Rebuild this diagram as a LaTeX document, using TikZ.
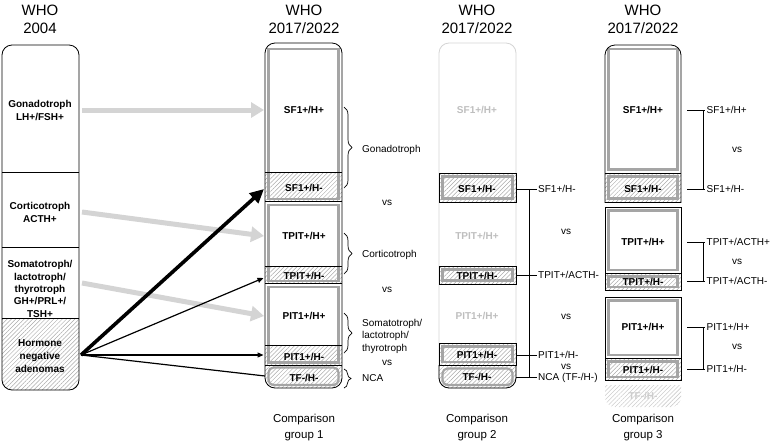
\documentclass[tikz,border=0pt]{standalone}
\usepackage{fontspec}
\setmainfont{Liberation Sans}
\usetikzlibrary{arrows.meta,patterns.meta,decorations.pathreplacing}
\definecolor{gbord}{RGB}{165,165,165}
\definecolor{garrow}{RGB}{212,212,212}
\definecolor{fadeline}{RGB}{212,212,212}
\definecolor{fadetext}{RGB}{190,190,190}
\definecolor{hatchc}{RGB}{170,170,170}
\definecolor{hatchl}{RGB}{205,205,205}
\begin{document}
\begin{tikzpicture}[x=1pt,y=-1pt,
  hatch/.style={pattern={Lines[angle=45,distance=3pt,line width=0.5pt]},pattern color=hatchc},
  hatchlight/.style={pattern={Lines[angle=45,distance=3pt,line width=0.6pt]},pattern color=hatchl},
  gbox/.style={draw=gbord,line width=2.2pt},
  bline/.style={draw=black,line width=0.8pt},
  lbl/.style={font=\bfseries\fontsize{10}{13}\selectfont,align=center,inner sep=0pt},
  txt/.style={font=\fontsize{10}{12.5}\selectfont,anchor=west,align=left,inner sep=0pt},
  vstxt/.style={font=\fontsize{10}{12}\selectfont,inner sep=0pt},
  ttl/.style={font=\fontsize{15}{18}\selectfont,align=center,inner sep=0pt},
  cmp/.style={font=\fontsize{11.5}{16}\selectfont,align=center,inner sep=0pt},
  garr/.style={draw=garrow,line width=5pt,-{Triangle[length=13pt,width=15pt]}},
  barrthick/.style={draw=black,line width=3.6pt,-{Triangle[length=14pt,width=13pt]}},
  barrthin/.style={draw=black,line width=1.2pt,-{Triangle[length=6pt,width=5pt]}},
  brc/.style={draw=black,line width=0.7pt,decorate,decoration={brace,amplitude=8pt}}
]
\useasboundingbox (0,0) rectangle (777,445);

% ---------- titles ----------
\node[ttl] (t0) at (40,19) {WHO\\2004};
\node[ttl] (t1) at (304,19) {WHO\\2017/2022};
\node[ttl] (t2) at (477,19) {WHO\\2017/2022};
\node[ttl] (t3) at (643,19) {WHO\\2017/2022};
\node[cmp] (c1) at (304,428) {Comparison\\group 1};
\node[cmp] (c2) at (477,428) {Comparison\\group 2};
\node[cmp] (c3) at (643,428) {Comparison\\group 3};

% ---------- WHO 2004 column ----------
\begin{scope}
  \clip[rounded corners=10pt] (2,45) rectangle (79,390);
  \fill[hatch] (2,318) rectangle (79,390);
\end{scope}
\draw[bline,rounded corners=10pt] (2,45) rectangle (79,390);
\draw[bline] (2,172) -- (79,172);
\draw[bline] (2,247) -- (79,247);
\draw[bline] (2,318) -- (79,318);
\node[lbl] (gon) at (40,110.5) {Gonadotroph\\LH+/FSH+};
\node[lbl] (cor) at (40,212.5) {Corticotroph\\ACTH+};
\node[lbl,font=\bfseries\fontsize{10}{12.3}\selectfont] (som) at (40,289) {Somatotroph/\\lactotroph/\\thyrotroph\\GH+/PRL+/\\TSH+};
\node[lbl] (hna) at (40,356) {Hormone\\negative\\adenomas};

% ---------- group 1 column ----------
\begin{scope}
  \clip[rounded corners=10pt] (265,43) rectangle (342,388);
  \fill[hatch] (265,172) rectangle (342,201.5);
  \fill[hatch] (265,266) rectangle (342,283.5);
  \fill[hatch] (265,345) rectangle (342,388);
\end{scope}
\draw[gbox] (268.5,49) rectangle (338.5,199);
\draw[gbox] (268.5,205) rectangle (338.5,281);
\draw[gbox] (268.5,287) rectangle (338.5,362.5);
\draw[gbox,rounded corners=5pt] (268.5,367.5) rectangle (338.5,385);
\draw[bline] (265,172) -- (342,172);
\draw[bline] (265,201.5) -- (342,201.5);
\draw[bline] (265,266) -- (342,266);
\draw[bline] (265,283.5) -- (342,283.5);
\draw[bline] (265,345) -- (342,345);
\draw[bline] (265,365) -- (342,365);
\draw[bline,rounded corners=10pt] (265,43) rectangle (342,388);
\node[lbl] (a1) at (304,110) {SF1+/H+};
\node[lbl] (a2) at (304,188) {SF1+/H-};
\node[lbl] (a3) at (304,236) {TPIT+/H+};
\node[lbl] (a4) at (304,276) {TPIT+/H-};
\node[lbl] (a5) at (304,316) {PIT1+/H+};
\node[lbl] (a6) at (304,357) {PIT1+/H-};
\node[lbl] (a7) at (304,377.5) {TF-/H-};

% braces group 1
\coordinate (b1t) at (344,107); \coordinate (b1b) at (344,188);
\coordinate (b2t) at (344,233); \coordinate (b2b) at (344,274);
\coordinate (b3t) at (344,313); \coordinate (b3b) at (344,353);
\coordinate (b4t) at (344,369); \coordinate (b4b) at (344,388);
\draw[brc] (b1t) -- (b1b);
\draw[brc] (b2t) -- (b2b);
\draw[brc] (b3t) -- (b3b);
\draw[brc,decoration={brace,amplitude=7pt}] (b4t) -- (b4b);
\node[txt] (l1) at (362,150) {Gonadotroph};
\node[vstxt] (v1) at (387,203) {vs};
\node[txt] (l2) at (362,255) {Corticotroph};
\node[vstxt] (v2) at (387,290) {vs};
\node[txt] (l3) at (362,336) {Somatotroph/\\lactotroph/\\thyrotroph};
\node[vstxt] (v3) at (387,363) {vs};
\node[txt] (l4) at (362,378) {NCA};

% ---------- arrows ----------
\coordinate (src) at (81,355);
\coordinate (g0) at (82,110);  \coordinate (g1) at (264,110);
\coordinate (k0) at (82,212);  \coordinate (k1) at (264,236);
\coordinate (s0) at (82,283);  \coordinate (s1) at (264,316);
\coordinate (e1) at (264,189);
\coordinate (e2) at (263.5,278);
\coordinate (e3) at (263.5,355);
\coordinate (e4) at (265,376);
\draw[garr] (g0) -- (g1);
\draw[garr] (k0) -- (k1);
\draw[garr] (s0) -- (s1);
\draw[barrthick] (src) -- (e1);
\draw[barrthin] (src) -- (e2);
\draw[barrthin] (src) -- (e3);
\draw[draw=black,line width=1.2pt] (src) -- (e4);

% ---------- group 2 column ----------
\draw[draw=fadeline,line width=0.8pt,rounded corners=10pt] (439,43) rectangle (516,388);
\node[lbl,text=fadetext] (f1) at (477,110) {SF1+/H+};
\node[lbl,text=fadetext] (f2) at (477,236) {TPIT+/H+};
\node[lbl,text=fadetext] (f3) at (477,316) {PIT1+/H+};
% SF1 H-
\fill[hatch] (439,173) rectangle (516,202);
\draw[gbox] (442.5,176.5) rectangle (512.5,198.5);
\draw[bline] (439,173) rectangle (516,202);
% TPIT H-
\fill[hatch] (439,266) rectangle (516,284);
\draw[gbox] (442.5,269.5) rectangle (512.5,280.5);
\draw[bline] (439,266) rectangle (516,284);
% PIT1 H- and TF
\begin{scope}
  \clip[rounded corners=10pt] (439,43) rectangle (516,388);
  \fill[hatch] (439,343) rectangle (516,388);
\end{scope}
\draw[gbox] (442.5,346.5) rectangle (512.5,362);
\draw[gbox,rounded corners=5pt] (442.5,368.5) rectangle (512.5,385);
\draw[bline] (439,343) rectangle (516,365);
\begin{scope}
  \clip (430,365) rectangle (525,395);
  \draw[bline,rounded corners=10pt] (439,43) rectangle (516,388);
\end{scope}
\node[lbl] (m1) at (477,189) {SF1+/H-};
\node[lbl] (m2) at (477,275.5) {TPIT+/H-};
\node[lbl] (m3) at (477,355) {PIT1+/H-};
\node[lbl] (m4) at (477,377) {TF-/H-};
% bracket group 2
\coordinate (q1) at (516,189); \coordinate (q1e) at (537,189);
\coordinate (q2) at (516,275); \coordinate (q2e) at (537,275);
\coordinate (q3) at (516,355); \coordinate (q3e) at (537,355);
\coordinate (q4) at (516,377); \coordinate (q4e) at (537,377);
\coordinate (qt) at (529,189); \coordinate (qb) at (529,377);
\draw[line width=0.8pt] (q1) -- (q1e);
\draw[line width=0.8pt] (q2) -- (q2e);
\draw[line width=0.8pt] (q3) -- (q3e);
\draw[line width=0.8pt] (q4) -- (q4e);
\draw[line width=0.8pt] (qt) -- (qb);
\node[txt] (r1) at (538,189) {SF1+/H-};
\node[vstxt] (w1) at (566,232) {vs};
\node[txt] (r2) at (538,275) {TPIT+/ACTH-};
\node[vstxt] (w2) at (566,317) {vs};
\node[txt] (r3) at (538,355) {PIT1+/H-};
\node[vstxt] (w3) at (566,366.5) {vs};
\node[txt] (r4) at (538,378) {NCA (TF-/H-)};

% ---------- group 3 column ----------
% SF1 section
\fill[hatch] (605,173) rectangle (681,202);
\draw[gbox] (608.5,49) rectangle (677.5,169.5);
\draw[gbox] (608.5,176.5) rectangle (677.5,198.5);
\begin{scope}
  \clip (598,38) rectangle (688,202);
  \draw[bline,rounded corners=10pt] (605,45) rectangle (681,230);
\end{scope}
\draw[bline] (605,202) -- (681,202);
\draw[bline] (605,173) -- (681,173);
% TPIT section
\fill[hatch] (605,273) rectangle (681,290);
\draw[gbox] (608.5,210.5) rectangle (677.5,270);
\draw[gbox] (608.5,276.5) rectangle (677.5,287);
\draw[bline] (605,207) rectangle (681,290);
\draw[bline] (605,273) -- (681,273);
% PIT1 section
\fill[hatch] (605,358) rectangle (681,380);
\draw[gbox] (608.5,300.5) rectangle (677.5,355);
\draw[gbox] (608.5,361.5) rectangle (677.5,377);
\draw[bline] (605,297) rectangle (681,380);
\draw[bline] (605,358) -- (681,358);
% faded TF
\begin{scope}
  \clip[rounded corners=10pt] (605,360) rectangle (681,407);
  \fill[hatchlight] (605,385) rectangle (681,407);
\end{scope}
\node[lbl,text=hatchl] (n7) at (643,396) {TF-/H-};
\node[lbl] (n1) at (643,110) {SF1+/H+};
\node[lbl] (n2) at (643,189) {SF1+/H-};
\node[lbl] (n3) at (643,242) {TPIT+/H+};
\node[lbl] (n4) at (643,282) {TPIT+/H-};
\node[lbl] (n5) at (643,327) {PIT1+/H+};
\node[lbl] (n6) at (643,369.5) {PIT1+/H-};
% brackets group 3
\foreach \ya/\yb/\na/\nb/\yv in {110/189/SF1+\slash H+/SF1+\slash H-/150,
                                  242/281/TPIT+\slash ACTH+/TPIT+\slash ACTH-/262,
                                  327/369/PIT1+\slash H+/PIT1+\slash H-/347}{
  \coordinate (u1) at (687,\ya); \coordinate (u1e) at (705,\ya);
  \coordinate (u2) at (687,\yb); \coordinate (u2e) at (705,\yb);
  \coordinate (uv1) at (703,\ya); \coordinate (uv2) at (703,\yb);
  \draw[line width=0.8pt] (u1) -- (u1e);
  \draw[line width=0.8pt] (u2) -- (u2e);
  \draw[line width=0.8pt] (uv1) -- (uv2);
  \node[txt] at (706.5,\ya) {\na};
  \node[txt] at (706.5,\yb) {\nb};
  \node[vstxt] at (737,\yv) {vs};
}
\end{tikzpicture}
\end{document}
